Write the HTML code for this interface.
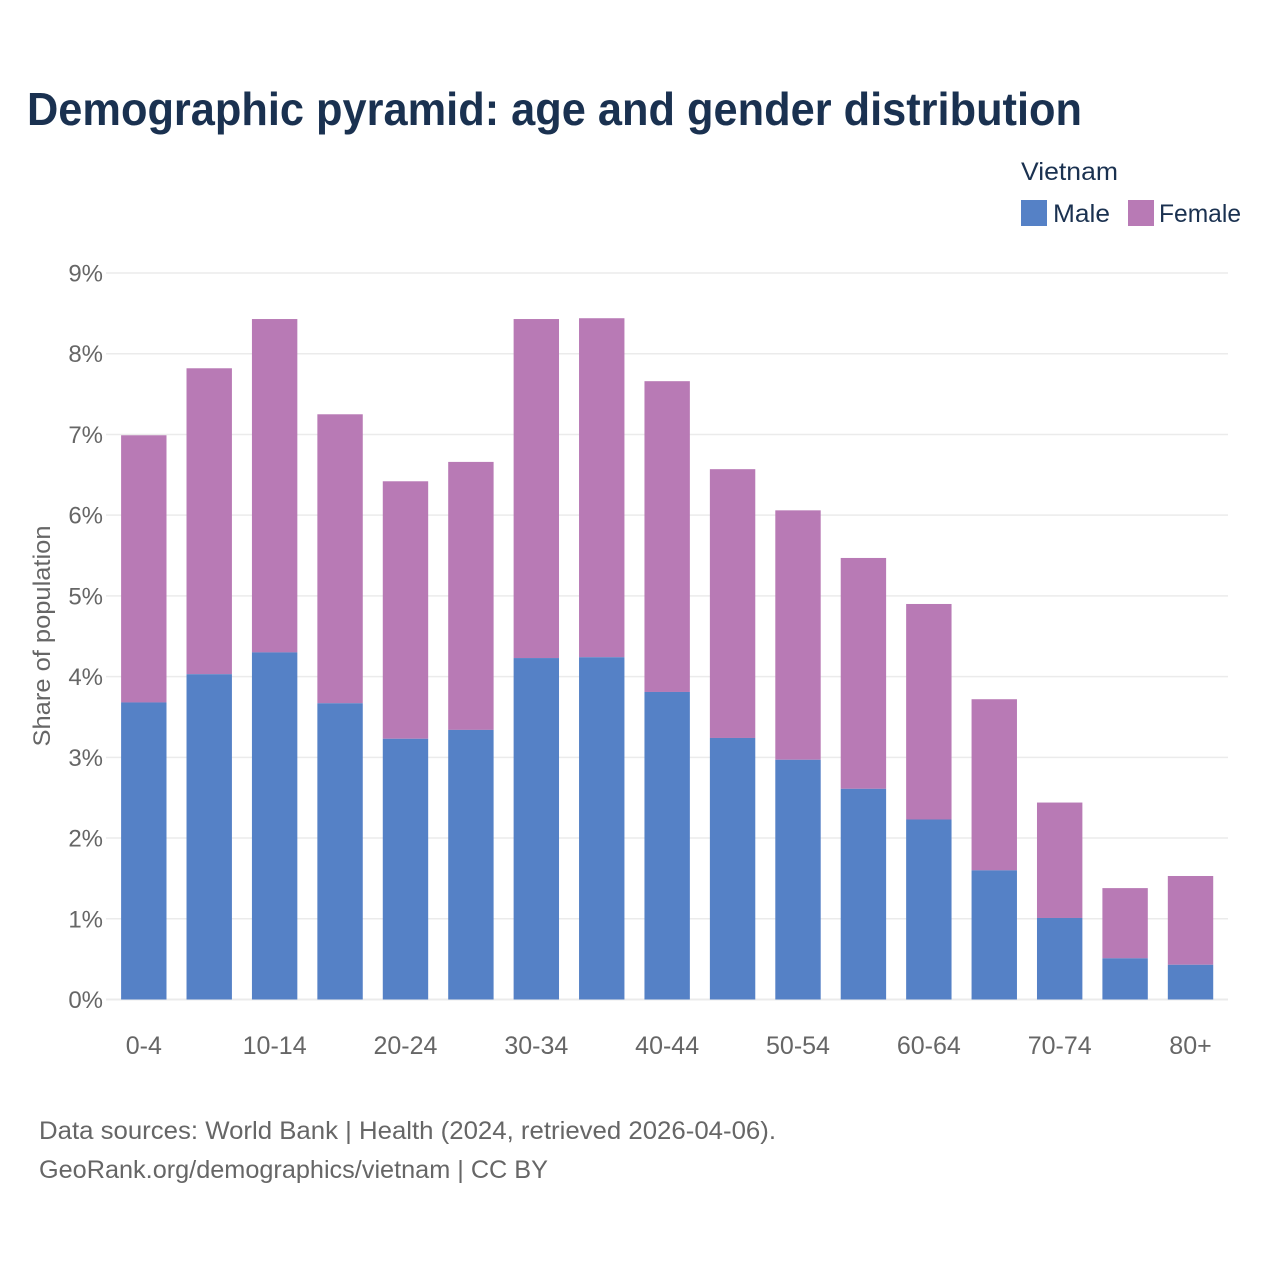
<!DOCTYPE html>
<html lang="en">
<head>
<meta charset="utf-8">
<title>Demographic pyramid: age and gender distribution</title>
<style>
  html, body { margin: 0; padding: 0; background: #fff; }
  svg { display: block; font-family: "Liberation Sans", Arial, sans-serif; }
</style>
</head>
<body>
<svg id="chart" xmlns="http://www.w3.org/2000/svg" width="1280" height="1280" viewBox="0 0 1280 1280">
  <rect x="0" y="0" width="1280" height="1280" fill="#ffffff"/>
  <text x="27" y="125" font-size="46" font-weight="700" fill="#1a3150" textLength="1055" lengthAdjust="spacingAndGlyphs">Demographic pyramid: age and gender distribution</text>

  <text x="1021" y="180" font-size="25" fill="#1a3150" textLength="97" lengthAdjust="spacingAndGlyphs">Vietnam</text>
  <rect x="1021" y="200" width="26" height="26" fill="#5581c6"/>
  <text x="1053" y="222" font-size="25" fill="#1a3150" textLength="57" lengthAdjust="spacingAndGlyphs">Male</text>
  <rect x="1128" y="200" width="26" height="26" fill="#b87ab5"/>
  <text x="1159" y="222" font-size="25" fill="#1a3150" textLength="82" lengthAdjust="spacingAndGlyphs">Female</text>

  <g id="grid"></g>
  <g id="y-ticks"></g>
  <g id="bars"></g>
  <g id="x-ticks"></g>

  <text transform="translate(50,636) rotate(-90)" text-anchor="middle" font-size="24" fill="#666666" textLength="221" lengthAdjust="spacingAndGlyphs">Share of population</text>

  <text x="39" y="1139" font-size="25" fill="#666666" textLength="737" lengthAdjust="spacingAndGlyphs">Data sources: World Bank | Health (2024, retrieved 2026-04-06).</text>
  <text x="39" y="1178" font-size="25" fill="#666666" textLength="509" lengthAdjust="spacingAndGlyphs">GeoRank.org/demographics/vietnam | CC BY</text>
</svg>
<script>
const ageGroups = ["0-4","5-9","10-14","15-19","20-24","25-29","30-34","35-39","40-44","45-49","50-54","55-59","60-64","65-69","70-74","75-79","80+"];
const maleValues = [3.68,4.03,4.30,3.67,3.23,3.34,4.23,4.24,3.81,3.24,2.97,2.61,2.23,1.60,1.01,0.51,0.43];
const femaleValues = [3.31,3.79,4.13,3.58,3.19,3.32,4.20,4.20,3.85,3.33,3.09,2.86,2.67,2.12,1.43,0.87,1.10];
const yTickValues = [0,1,2,3,4,5,6,7,8,9];
const xTickLabels = ["0-4","10-14","20-24","30-34","40-44","50-54","60-64","70-74","80+"];

const SVG_NS = "http://www.w3.org/2000/svg";
const yScale = v => 999.5 - v * 80.72;
const xCenter = i => 143.8 + i * 65.42;
const barWidth = 45.4;

function svgEl(tag, attrs, parent) {
  const el = document.createElementNS(SVG_NS, tag);
  for (const k in attrs) el.setAttribute(k, attrs[k]);
  parent.appendChild(el);
  return el;
}

const gridGroup = document.getElementById("grid");
const yTickGroup = document.getElementById("y-ticks");
yTickValues.forEach(v => {
  const line = svgEl("line", {x1: 106, x2: 1228, y1: yScale(v), y2: yScale(v), stroke: "#ebebeb", "stroke-width": v === 0 ? 2 : 1.5}, gridGroup);
  
  
  const label = svgEl("text", {x: 103, y: yScale(v) + 8.5, "text-anchor": "end", "font-size": 24, fill: "#666666"}, yTickGroup);
  label.textContent = v + "%";
  
  
});

const barGroup = document.getElementById("bars");
ageGroups.forEach((group, i) => {
  const x = xCenter(i) - barWidth / 2;
  const maleTop = yScale(maleValues[i]);
  const totalTop = yScale(maleValues[i] + femaleValues[i]);
  const female = svgEl("rect", {x: x, y: totalTop, width: barWidth, height: maleTop - totalTop, fill: "#b87ab5"}, barGroup);
  
  
  const male = svgEl("rect", {x: x, y: maleTop, width: barWidth, height: yScale(0) - maleTop, fill: "#5581c6"}, barGroup);
  
  
});

const xTickGroup = document.getElementById("x-ticks");
xTickLabels.forEach(text => {
  const i = ageGroups.indexOf(text);
  const label = svgEl("text", {x: xCenter(i), y: 1054, "text-anchor": "middle", "font-size": 25, fill: "#666666"}, xTickGroup);
  label.textContent = text;
  
  
});
</script>
</body>
</html>
